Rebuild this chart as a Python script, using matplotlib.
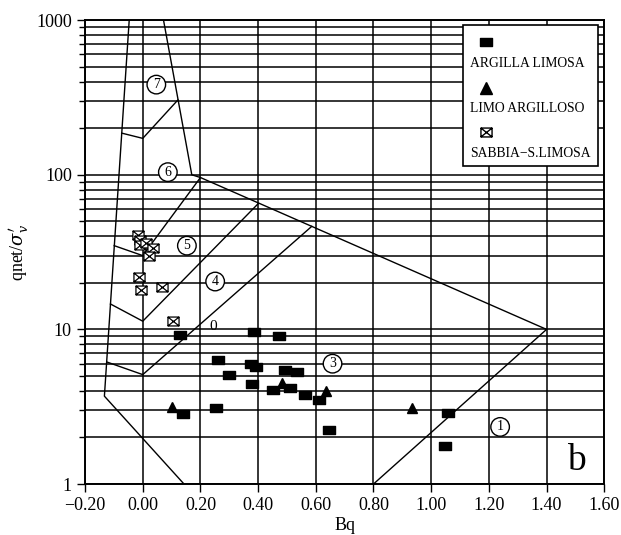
""" Bq vs qnet/sigma'v classification chart (Senneset type) """
import matplotlib
matplotlib.use("Agg")
import matplotlib.pyplot as plt
from matplotlib.path import Path
import numpy as np

plt.rcParams["font.family"] = ["Liberation Serif", "DejaVu Serif"]
plt.rcParams["mathtext.fontset"] = "dejavuserif"

# --- data ---
argilla_bq = [0.129, 0.262, 0.299, 0.375, 0.393, 0.378, 0.386, 0.474, 0.494, 0.534,
              0.453, 0.511, 0.254, 0.141, 0.563, 0.612, 0.644, 1.06, 1.049]
argilla_q = [9.15, 6.3, 5.05, 6.0, 5.7, 4.42, 9.6, 9.1, 5.5, 5.3,
             4.08, 4.18, 3.12, 2.82, 3.75, 3.48, 2.25, 2.9, 1.76]

limo_bq = [0.103, 0.482, 0.636, 0.933]
limo_q = [3.15, 4.5, 4.0, 3.08]

sabbia_bq = [-0.015, -0.01, -0.009, 0.01, 0.037, 0.02, -0.012, -0.006, 0.066, 0.104]
sabbia_q = [41.0, 38.0, 35.0, 36.0, 33.8, 29.9, 21.8, 17.9, 18.9, 11.3]

# zone boundaries (Bq, qnet/sigma'v)
outer_left = ([-0.047, -0.133, 0.143], [1000, 3.7, 1])
outer_right = ([0.072, 0.17, 0.2, 1.4, 0.8], [1000, 100, 96, 10, 1])
b76 = ([-0.073, 0.0, 0.122], [186, 172, 305])
b65 = ([-0.099, 0.0, 0.2], [34.8, 30, 96])
b54 = ([-0.112, 0.0, 0.4], [14.6, 11.3, 65])
b43 = ([-0.124, 0.0, 0.586], [6.15, 5.1, 46.4])

zone_labels = ["7", "6", "5", "4", "3", "1"]
zone_x = [0.047, 0.087, 0.153, 0.251, 0.658, 1.239]
zone_y = [383, 104, 34.8, 20.4, 6.0, 2.34]

# markers
rect = Path([(-1, -0.75), (1, -0.75), (1, 0.75), (-1, 0.75), (-1, -0.75)],
            [Path.MOVETO, Path.LINETO, Path.LINETO, Path.LINETO, Path.CLOSEPOLY])
xbox = Path([(-1, -0.8), (1, -0.8), (1, 0.8), (-1, 0.8), (-1, -0.8),
             (-1, -0.8), (1, 0.8), (-1, 0.8), (1, -0.8)],
            [Path.MOVETO, Path.LINETO, Path.LINETO, Path.LINETO, Path.CLOSEPOLY,
             Path.MOVETO, Path.LINETO, Path.MOVETO, Path.LINETO])

fig = plt.figure(figsize=(6.21, 5.35), dpi=100)
ax = fig.add_axes([0.137, 0.0953, 0.836, 0.867])

ax.set_yscale("log")
ax.set_xlim(-0.2, 1.6)
ax.set_ylim(1, 1000)

xt = np.arange(-0.2, 1.61, 0.2)
ax.set_xticks(xt)
ax.set_xticklabels([f"{v:.2f}".replace("-", "\u2212") for v in xt])
ax.set_yticks([1, 10, 100, 1000])
ax.set_yticklabels(["1", "10", "100", "1000"])
ax.yaxis.set_minor_locator(matplotlib.ticker.LogLocator(base=10, subs=np.arange(2, 10)))
ax.yaxis.set_minor_formatter(matplotlib.ticker.NullFormatter())

ax.grid(True, which="major", axis="x", color="black", lw=1.1)
ax.grid(True, which="both", axis="y", color="black", lw=1.1)
ax.set_axisbelow(True)

ax.tick_params(which="major", direction="out", length=6, width=1, labelsize=13, colors="black")
ax.tick_params(which="minor", direction="out", length=4, width=1)
for s in ax.spines.values():
    s.set_linewidth(1.4)

for bx, by in [outer_left, outer_right, b76, b65, b54, b43]:
    ax.plot(bx, by, color="black", lw=1.0, zorder=3)

ax.plot(argilla_bq, argilla_q, ls="none", marker=rect, ms=8, mfc="black", mec="black", zorder=5)
ax.plot(limo_bq, limo_q, ls="none", marker="^", ms=6.5, mfc="black", mec="black", zorder=5)
ax.plot(sabbia_bq, sabbia_q, ls="none", marker=xbox, ms=8, mfc="white", mec="black", mew=0.9, zorder=5)

for lab, zx, zy in zip(zone_labels, zone_x, zone_y):
    ax.text(zx, zy, lab, ha="center", va="center", fontsize=10, zorder=6,
            bbox=dict(boxstyle="circle,pad=0.2", fc="white", ec="black", lw=1.0))
ax.text(0.245, 10.45, "0", ha="center", va="center", fontsize=11, zorder=6)
ax.text(1.505, 1.42, "b", ha="center", va="center", fontsize=27, zorder=6)

ax.set_xlabel("Bq", fontsize=13, labelpad=2)
ax.set_ylabel(r"qnet/$\sigma_v'$", fontsize=13, labelpad=4)

# legend box, drawn by hand: marker above its label
ax.add_patch(plt.Rectangle((0.728, 0.685), 0.26, 0.304, transform=ax.transAxes,
                           fc="white", ec="black", lw=1.2, zorder=7))
leg_items = [("ARGILLA LIMOSA", rect, "black", 8),
             ("LIMO ARGILLOSO", "^", "black", 8),
             ("SABBIA\u2212S.LIMOSA", xbox, "white", 8)]
marker_y = [0.953, 0.853, 0.759]
text_y = [0.907, 0.810, 0.713]
for (lab, mk, fc, ms), my, ty in zip(leg_items, marker_y, text_y):
    ax.plot([0.772], [my], transform=ax.transAxes, marker=mk, ms=ms, mfc=fc,
            mec="black", ls="none", zorder=8, clip_on=False)
    ax.text(0.741, ty, lab, transform=ax.transAxes, ha="left", va="center",
            fontsize=9.8, zorder=8)

fig.savefig("out.png", dpi=100)
